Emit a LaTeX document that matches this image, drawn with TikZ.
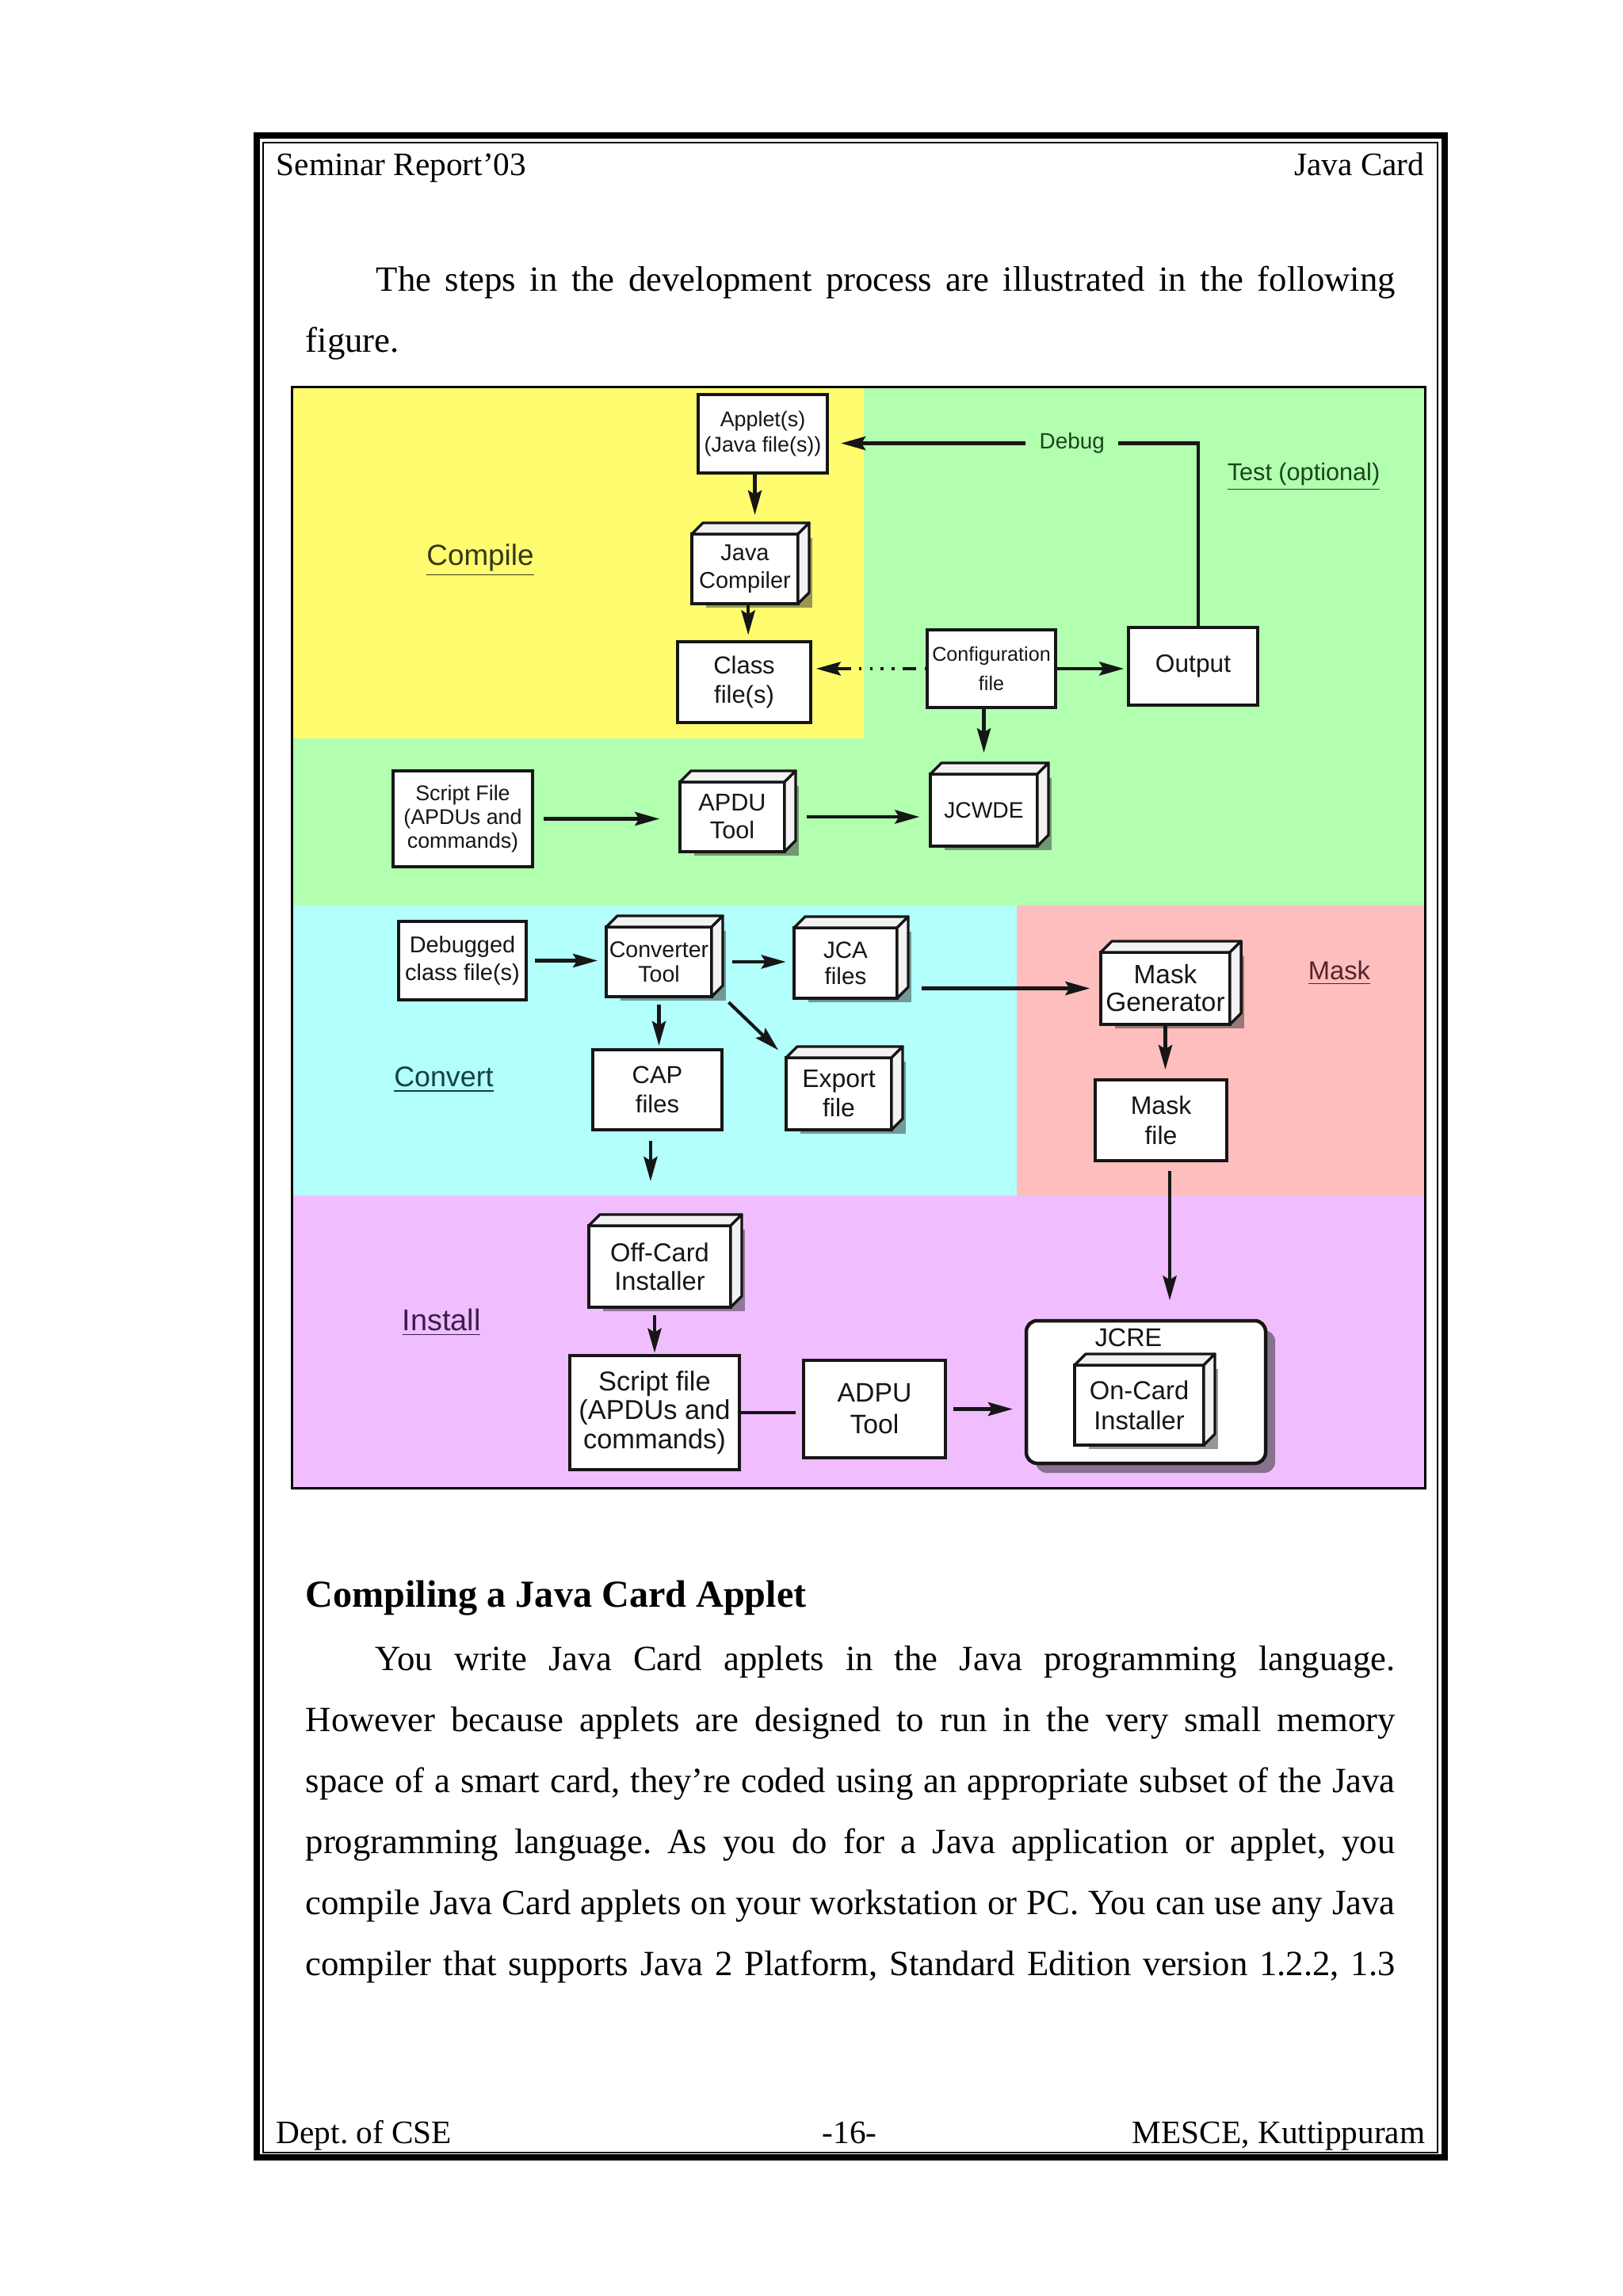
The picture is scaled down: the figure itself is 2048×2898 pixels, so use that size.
\documentclass[tikz,border=0pt]{standalone}
\usepackage{fontspec}
\setmainfont{Liberation Serif}
\setsansfont{Liberation Sans}
\usetikzlibrary{arrows.meta,shadows}
\frenchspacing

\definecolor{ylw}{RGB}{255,252,112}
\definecolor{grn}{RGB}{178,255,176}
\definecolor{cyn}{RGB}{178,255,252}
\definecolor{slm}{RGB}{255,190,190}
\definecolor{pnk}{RGB}{240,190,254}
\definecolor{ink}{RGB}{22,22,22}
\definecolor{cmpc}{RGB}{55,55,25}
\definecolor{tstc}{RGB}{25,70,25}
\definecolor{cnvc}{RGB}{20,65,70}
\definecolor{mskc}{RGB}{85,35,40}
\definecolor{insc}{RGB}{60,30,75}

\tikzset{
  fsz/.style 2 args={font=\sffamily\fontsize{#1}{#2}\selectfont},
  sz/.style 2 args={minimum width=#1*0.2905pt,minimum height=#2*0.2905pt},
  box/.style={draw=ink,line width=1.3pt,fill=white,inner sep=0pt,outer sep=0pt,align=center,text=ink},
  cube/.style={box,drop shadow={shadow xshift=5.2pt,shadow yshift=-1.4pt,opacity=.5,fill=black!80}},
  face/.style={draw=ink,line width=1pt,fill=black!5,line join=round},
  stage/.style={inner sep=0pt},
  arr/.style={draw=ink,line width=1.2pt,-{Stealth[length=9pt,width=5pt,inset=1.5pt]}},
  ptxt/.style={inner sep=0pt,font=\fontsize{12}{14}\selectfont},
  btxt/.style={inner sep=0pt,font=\fontsize{13}{15}\selectfont},
}

\begin{document}
\begin{tikzpicture}[x=0.2905pt,y=-0.2905pt]

	\useasboundingbox (0,0) rectangle (2048,2898);
	\fill[white] (0,0) rectangle (2048,2898);

	% page frame
	\draw[line width=8*0.2905pt] (323.5,171) rectangle (1822.5,2722.5);
	\draw[line width=2*0.2905pt] (332,180) rectangle (1814,2716.5);

	\node[ptxt, anchor=base west] (hl) at (348,222) {Seminar Report’03};
	\node[ptxt, anchor=base east] (hr) at (1798,222) {Java Card};
	\node[btxt, anchor=base west] (t1) at (474,368) {\makebox[373.6pt][s]{The steps in the development process are illustrated in the following}};
	\node[btxt, anchor=base west] (t2) at (385,445) {figure.};

	% coloured stages
	\fill[grn] (369,490) rectangle (1797,1143);
	\fill[ylw] (369,490) rectangle (1090,932);
	\fill[cyn] (369,1143) rectangle (1283,1509);
	\fill[slm] (1283,1143) rectangle (1797,1509);
	\fill[pnk] (369,1509) rectangle (1797,1877);
	\draw[line width=3*0.2905pt] (368,489) rectangle (1798,1878);

	\node[stage, fsz={10.7}{12}, text=cmpc] (lcomp) at (606,707) {\underline{Compile}};
	\node[stage, fsz={8.9}{10}, text=tstc] (ltest) at (1645,602) {\underline{Test (optional)}};
	\node[stage, fsz={10.4}{12}, text=cnvc] (lconv) at (560,1363) {\underline{Convert}};
	\node[stage, fsz={9.5}{11}, text=mskc] (lmask) at (1690,1228) {\underline{Mask}};
	\node[stage, fsz={11}{12}, text=insc] (linst) at (557,1669) {\underline{Install}};

	% boxes
	\node[box, sz={163}{99}, fsz={7.8}{9.3}] (app) at (962.5,547.5) {Applet(s)\\(Java file(s))};
	\node[cube, sz={134}{88}, fsz={8.4}{10.2}] (comp) at (940,718) {Java\\Compiler};
	\node[box, sz={168}{102}, fsz={9}{10.5}] (cls) at (939,861) {Class\\file(s)};
	\node[box, sz={162}{98}, fsz={7.3}{10.5}] (cfg) at (1251,844) {Configuration\\file};
	\node[box, sz={163}{98}, fsz={9.2}{11}] (out) at (1505.5,841) {Output};
	\node[box, sz={176}{121}, fsz={7.8}{8.7}] (scr1) at (584,1033.5) {Script File\\(APDUs and\\commands)};
	\node[cube, sz={132}{88}, fsz={8.9}{10.2}] (apdu) at (924,1031) {APDU\\Tool};
	\node[cube, sz={135}{91}, fsz={8.2}{10}] (jcwde) at (1241.5,1022.5) {JCWDE};
	\node[box, sz={161}{99}, fsz={8.4}{10.2}] (dbg) at (583.5,1212.5) {Debugged\\class file(s)};
	\node[cube, sz={133}{88}, fsz={8.3}{9}] (conv) at (831.5,1214) {Converter\\Tool};
	\node[cube, sz={130}{89}, fsz={8.6}{9.6}] (jca) at (1067,1215.5) {JCA\\files};
	\node[box, sz={163}{101}, fsz={9}{10.7}] (cap) at (829.5,1375.5) {CAP\\files};
	\node[cube, sz={133}{91}, fsz={9.3}{10.7}] (exp) at (1058.5,1380.5) {Export\\file};
	\node[cube, sz={163}{91}, fsz={9.7}{10.2}] (mgen) at (1470.5,1247.5) {Mask\\Generator};
	\node[box, sz={166}{102}, fsz={9.3}{11}] (mfile) at (1465,1414) {Mask\\file};
	\node[cube, sz={179}{103}, fsz={9.5}{10.5}] (offc) at (832.5,1598.5) {Off-Card\\Installer};
	\node[box, sz={214}{144}, fsz={10}{10.7}] (scr2) at (826,1783) {Script file\\(APDUs and\\commands)};
	\node[box, sz={179}{123}, fsz={9.8}{11.6}] (adpu) at (1103.5,1778.5) {ADPU\\Tool};
	\node[box, rounded corners=4pt, sz={302}{180}, drop shadow={shadow xshift=3.5pt,shadow yshift=-3.5pt,opacity=.55,fill=black!80}] (jcre) at (1446,1757) {};
	\node[stage, fsz={9.4}{11}, text=ink] (ljcre) at (1424,1688) {JCRE};
	\node[cube, sz={163}{101}, fsz={9.5}{11}] (onc) at (1437.5,1773.5) {On-Card\\Installer};

	% top and side of the 3d boxes
	\foreach \n in {comp,apdu,jcwde,conv,jca,exp,mgen,offc,onc} {
		\draw[face] (\n.north west) -- ++(14,-14) -- ([shift={(14,-14)}]\n.north east) -- (\n.north east) -- cycle;
		\draw[face] (\n.north east) -- ++(14,-14) -- ([shift={(14,-14)}]\n.south east) -- (\n.south east) -- cycle;
	}

	% connectors
	\draw[arr, shorten >=7pt] ([xshift=-2.9pt]app.south) -- ([xshift=-2.9pt]app.south |- comp.north);
	\draw[arr, shorten >=2.5pt] ([xshift=1.2pt]comp.south) -- ([xshift=1.2pt]comp.south |- cls.north);
	\draw[arr, shorten >=5pt] ([xshift=1.8pt]out.north) |- ([yshift=-3.5pt]app.east)
		node[pos=.67, fill=grn, inner xsep=5pt, inner ysep=1pt, fsz={8.1}{9}, text=tstc] (lbug) {Debug};
	\draw[arr, dash pattern=on 1pt off 3pt on 5pt off 3pt on 1pt off 3pt on 1pt off 3pt on 1pt off 3pt, shorten >=2pt] (cfg.west) -- (cfg.west -| cls.east);
	\draw[arr, shorten >=1.7pt] (cfg.east) -- (cfg.east -| out.west);
	\draw[arr, shorten >=7.8pt] (jcwde.north |- cfg.south) -- (jcwde.north);
	\draw[arr, shorten <=4pt, shorten >=7.5pt] (scr1.east) -- (scr1.east -| apdu.west);
	\draw[arr, shorten <=8pt, shorten >=4pt] (apdu.east) -- (apdu.east -| jcwde.west);
	\draw[arr, shorten <=3.2pt, shorten >=3.2pt] (dbg.east) -- (dbg.east -| conv.west);
	\draw[arr, shorten <=7.5pt, shorten >=3pt] (conv.east) -- (conv.east -| jca.west);
	\draw[arr, shorten <=9pt, shorten >=4pt] (jca.east |- mgen.west) -- (mgen.west);
	\draw[arr, shorten <=3pt, shorten >=1.5pt] (conv.south) -- (conv.south |- cap.north);
	\draw[arr, shorten <=3pt, shorten >=4pt] ([xshift=4.1pt]conv.south east) -- (exp.north west);
	\draw[arr, shorten <=4pt, shorten >=16.3pt] ([xshift=-2.5pt]cap.south) -- ([xshift=-2.5pt]cap.south |- offc.north);
	\draw[arr, shorten <=3pt, shorten >=1pt] (scr2.north |- offc.south) -- (scr2.north);
	\draw[draw=ink, line width=1.2pt, shorten >=3pt] (scr2.east) -- (scr2.east -| adpu.west);
	\draw[arr, shorten <=3pt, shorten >=5pt] (adpu.east) -- (adpu.east -| jcre.west);
	\draw[arr, shorten >=3.8pt] (mgen.south) -- (mgen.south |- mfile.north);
	\draw[arr, shorten <=3.8pt, shorten >=7.5pt] ([xshift=3.2pt]mfile.south) -- ([xshift=3.2pt]mfile.south |- jcre.north);

	% text below the figure
	\node[inner sep=0pt, font=\bfseries\fontsize{14}{16}\selectfont, anchor=base west] (hd) at (385,2028) {Compiling a Java Card Applet};
	\node[btxt, anchor=base west] (b1) at (473,2108) {\makebox[373.9pt][s]{You write Java Card applets in the Java programming language.}};
	\node[btxt, anchor=base west] (b2) at (385,2185) {\makebox[399.4pt][s]{However because applets are designed to run in the very small memory}};
	\node[btxt, anchor=base west] (b3) at (385,2262) {\makebox[399.4pt][s]{space of a smart card, they're coded using an appropriate subset of the Java}};
	\node[btxt, anchor=base west] (b4) at (385,2339) {\makebox[399.4pt][s]{programming language. As you do for a Java application or applet, you}};
	\node[btxt, anchor=base west] (b5) at (385,2416) {\makebox[399.4pt][s]{compile Java Card applets on your workstation or PC. You can use any Java}};
	\node[btxt, anchor=base west] (b6) at (385,2493) {\makebox[399.4pt][s]{compiler that supports Java 2 Platform, Standard Edition version 1.2.2, 1.3}};

	\node[ptxt, anchor=base west] (fl) at (348,2705) {Dept. of CSE};
	\node[ptxt, anchor=base] (fc) at (1072,2705) {-16-};
	\node[ptxt, anchor=base east] (fr) at (1799,2705) {MESCE, Kuttippuram};

\end{tikzpicture}
\end{document}
